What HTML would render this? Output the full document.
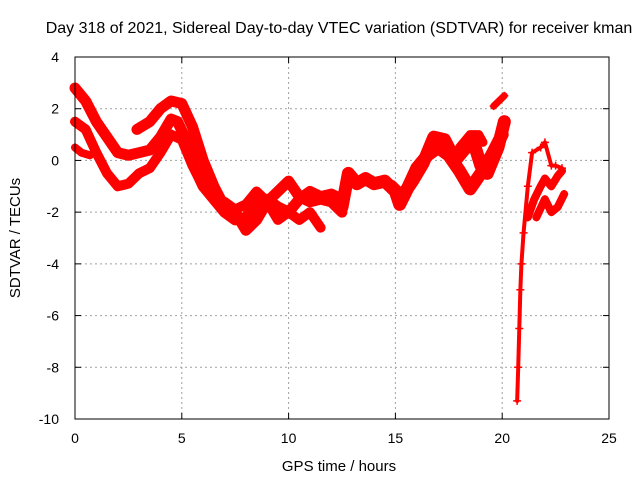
<!DOCTYPE html>
<html><head><meta charset="utf-8"><style>
body{margin:0;background:#fff}
svg{display:block;font-family:"Liberation Sans",sans-serif}
</style></head><body>
<svg id="c" width="640" height="480">
<text x="339" y="33" text-anchor="middle" font-size="16">Day 318 of 2021, Sidereal Day-to-day VTEC variation (SDTVAR) for receiver kman</text>
<text x="339" y="471" text-anchor="middle" font-size="15">GPS time / hours</text>
<text transform="translate(20,238) rotate(-90)" text-anchor="middle" font-size="15">SDTVAR / TECUs</text>
<g id="grid"></g><g id="marks"></g><g id="axes"></g>
</svg>
<script>
const xTicks=[0,5,10,15,20,25];
const yTicks=[-10,-8,-6,-4,-2,0,2,4];
const trackA=[[0,2.8],[0.5,2.3],[1,1.5],[1.5,0.9],[2,0.3],[2.5,0.2],[3,0.3],[3.5,0.4],[4,0.9],[4.5,1.6],[4.8,1.5],[5.2,0.8],[5.6,-0.3],[6,-1.0],[6.5,-1.5],[7,-2.0],[7.5,-2.3],[8,-2.2],[8.5,-1.6],[9,-1.5],[9.5,-1.8],[10,-2.0],[10.5,-1.5],[11,-1.2],[11.5,-1.4],[12,-1.3],[12.5,-1.5]];
const trackB=[[0,1.5],[0.5,1.2],[1,0.3],[1.5,-0.5],[2,-1.0],[2.5,-0.9],[3,-0.5],[3.5,-0.3],[4,0.3],[4.5,1.0],[5,0.8],[5.5,-0.2],[6,-1.0],[6.5,-1.5],[7,-1.6],[7.5,-1.9],[8,-1.7],[8.5,-1.2],[9,-1.6],[9.5,-2.3],[10,-2.0],[10.5,-2.3],[11,-2.0],[11.5,-2.6]];
const trackC=[[2.9,1.2],[3.5,1.5],[4,2.0],[4.5,2.3],[5,2.2],[5.5,1.3],[6,0.0],[6.5,-1.0],[7,-1.8],[7.5,-2.0],[8,-2.7],[8.5,-2.3],[9,-1.6],[9.5,-1.2],[10,-0.8],[10.5,-1.4],[11,-1.6],[11.5,-1.5],[12,-1.6],[12.5,-2.0]];
const trackD=[[0,0.5],[0.3,0.3],[0.7,0.2]];
const trackE=[[12.5,-1.8],[12.8,-0.5],[13.2,-0.9],[13.6,-0.7],[14,-0.9],[14.5,-0.8],[15,-1.2],[15.2,-1.7],[15.5,-1.2],[16,-0.3],[16.5,0.2],[17,0.5],[17.5,0.2],[18,-0.4],[18.5,-1.1],[19,-0.5],[19.5,0.2],[20,1.0]];
const trackF=[[14.8,-1.0],[15.3,-1.4],[15.8,-0.8],[16.3,-0.1],[16.8,0.9],[17.3,0.8],[17.8,0.0],[18.3,0.5],[18.7,0.6],[19,-0.2],[19.3,-0.5],[19.8,0.5],[20.1,1.5]];
const trackG=[[18,0.5],[18.5,1.0],[18.9,1.0],[19.1,0.7]];
const trackH=[[19.6,2.1],[20.1,2.5]];
const trackI=[[20.7,-9.3],[20.75,-8.0],[20.8,-6.5],[20.85,-5.0],[20.9,-4.0],[21,-2.8],[21.2,-1.0],[21.4,0.3],[21.8,0.5],[22,0.7],[22.3,-0.2],[22.5,-0.2],[22.8,-0.3]];
const trackJ=[[21.2,-2.2],[21.5,-1.5],[21.8,-1.0],[22,-0.7],[22.3,-1.0],[22.6,-0.6],[22.8,-0.4]];
const trackK=[[21.6,-2.2],[22,-1.5],[22.3,-2.0],[22.6,-1.8],[22.9,-1.3]];
const tracks=[[trackA,11],[trackB,10],[trackC,11],[trackD,8],[trackE,13],[trackF,13],[trackG,9],[trackH,7],[trackI,4],[trackJ,8],[trackK,8]];
const X0=75,X1=609,Y0=419,Y1=57;
const sx=h=>X0+(h-0)/25*(X1-X0);
const sy=v=>Y0-(v+10)/14*(Y0-Y1);
const NS="http://www.w3.org/2000/svg";
function mk(t,a,p){const e=document.createElementNS(NS,t);for(const k in a)e.setAttribute(k,a[k]);p.appendChild(e);return e;}
const grid=document.getElementById('grid'),axes=document.getElementById('axes'),marks=document.getElementById('marks');
xTicks.forEach(t=>{
  const g=mk('line',{x1:sx(t),x2:sx(t),y1:Y1,y2:Y0,stroke:'#a0a0a0','stroke-dasharray':'2,3'},grid);
  
  
  mk('line',{x1:sx(t),x2:sx(t),y1:Y0,y2:Y0-6,stroke:'#000'},axes);
  mk('line',{x1:sx(t),x2:sx(t),y1:Y1,y2:Y1+6,stroke:'#000'},axes);
  const l=mk('text',{x:sx(t),y:Y0+24,'text-anchor':'middle','font-size':14},axes);
  l.textContent=t;
  
  
});
yTicks.forEach(t=>{
  const g=mk('line',{x1:X0,x2:X1,y1:sy(t),y2:sy(t),stroke:'#a0a0a0','stroke-dasharray':'2,3'},grid);
  
  
  mk('line',{x1:X0,x2:X0+6,y1:sy(t),y2:sy(t),stroke:'#000'},axes);
  mk('line',{x1:X1,x2:X1-6,y1:sy(t),y2:sy(t),stroke:'#000'},axes);
  const l=mk('text',{x:X0-16,y:sy(t)+5,'text-anchor':'end','font-size':14},axes);
  l.textContent=t;
  
  
});
const fr=mk('rect',{x:X0,y:Y1,width:X1-X0,height:Y0-Y1,fill:'none',stroke:'#000'},axes);


tracks.forEach(([d,w],i)=>{
  const pl=mk('polyline',{points:d.map(p=>sx(p[0])+','+sy(p[1])).join(' '),fill:'none',stroke:'#f00','stroke-width':w,'stroke-linejoin':'round','stroke-linecap':'round'},marks);
  
  
  d.forEach(p=>{
    const x=sx(p[0]),y=sy(p[1]);
    const m=mk('path',{d:`M${x-4},${y}H${x+4}M${x},${y-4}V${y+4}`,stroke:'#f00','stroke-width':1.5},marks);
    
    
  });
});
</script>
</body></html>
